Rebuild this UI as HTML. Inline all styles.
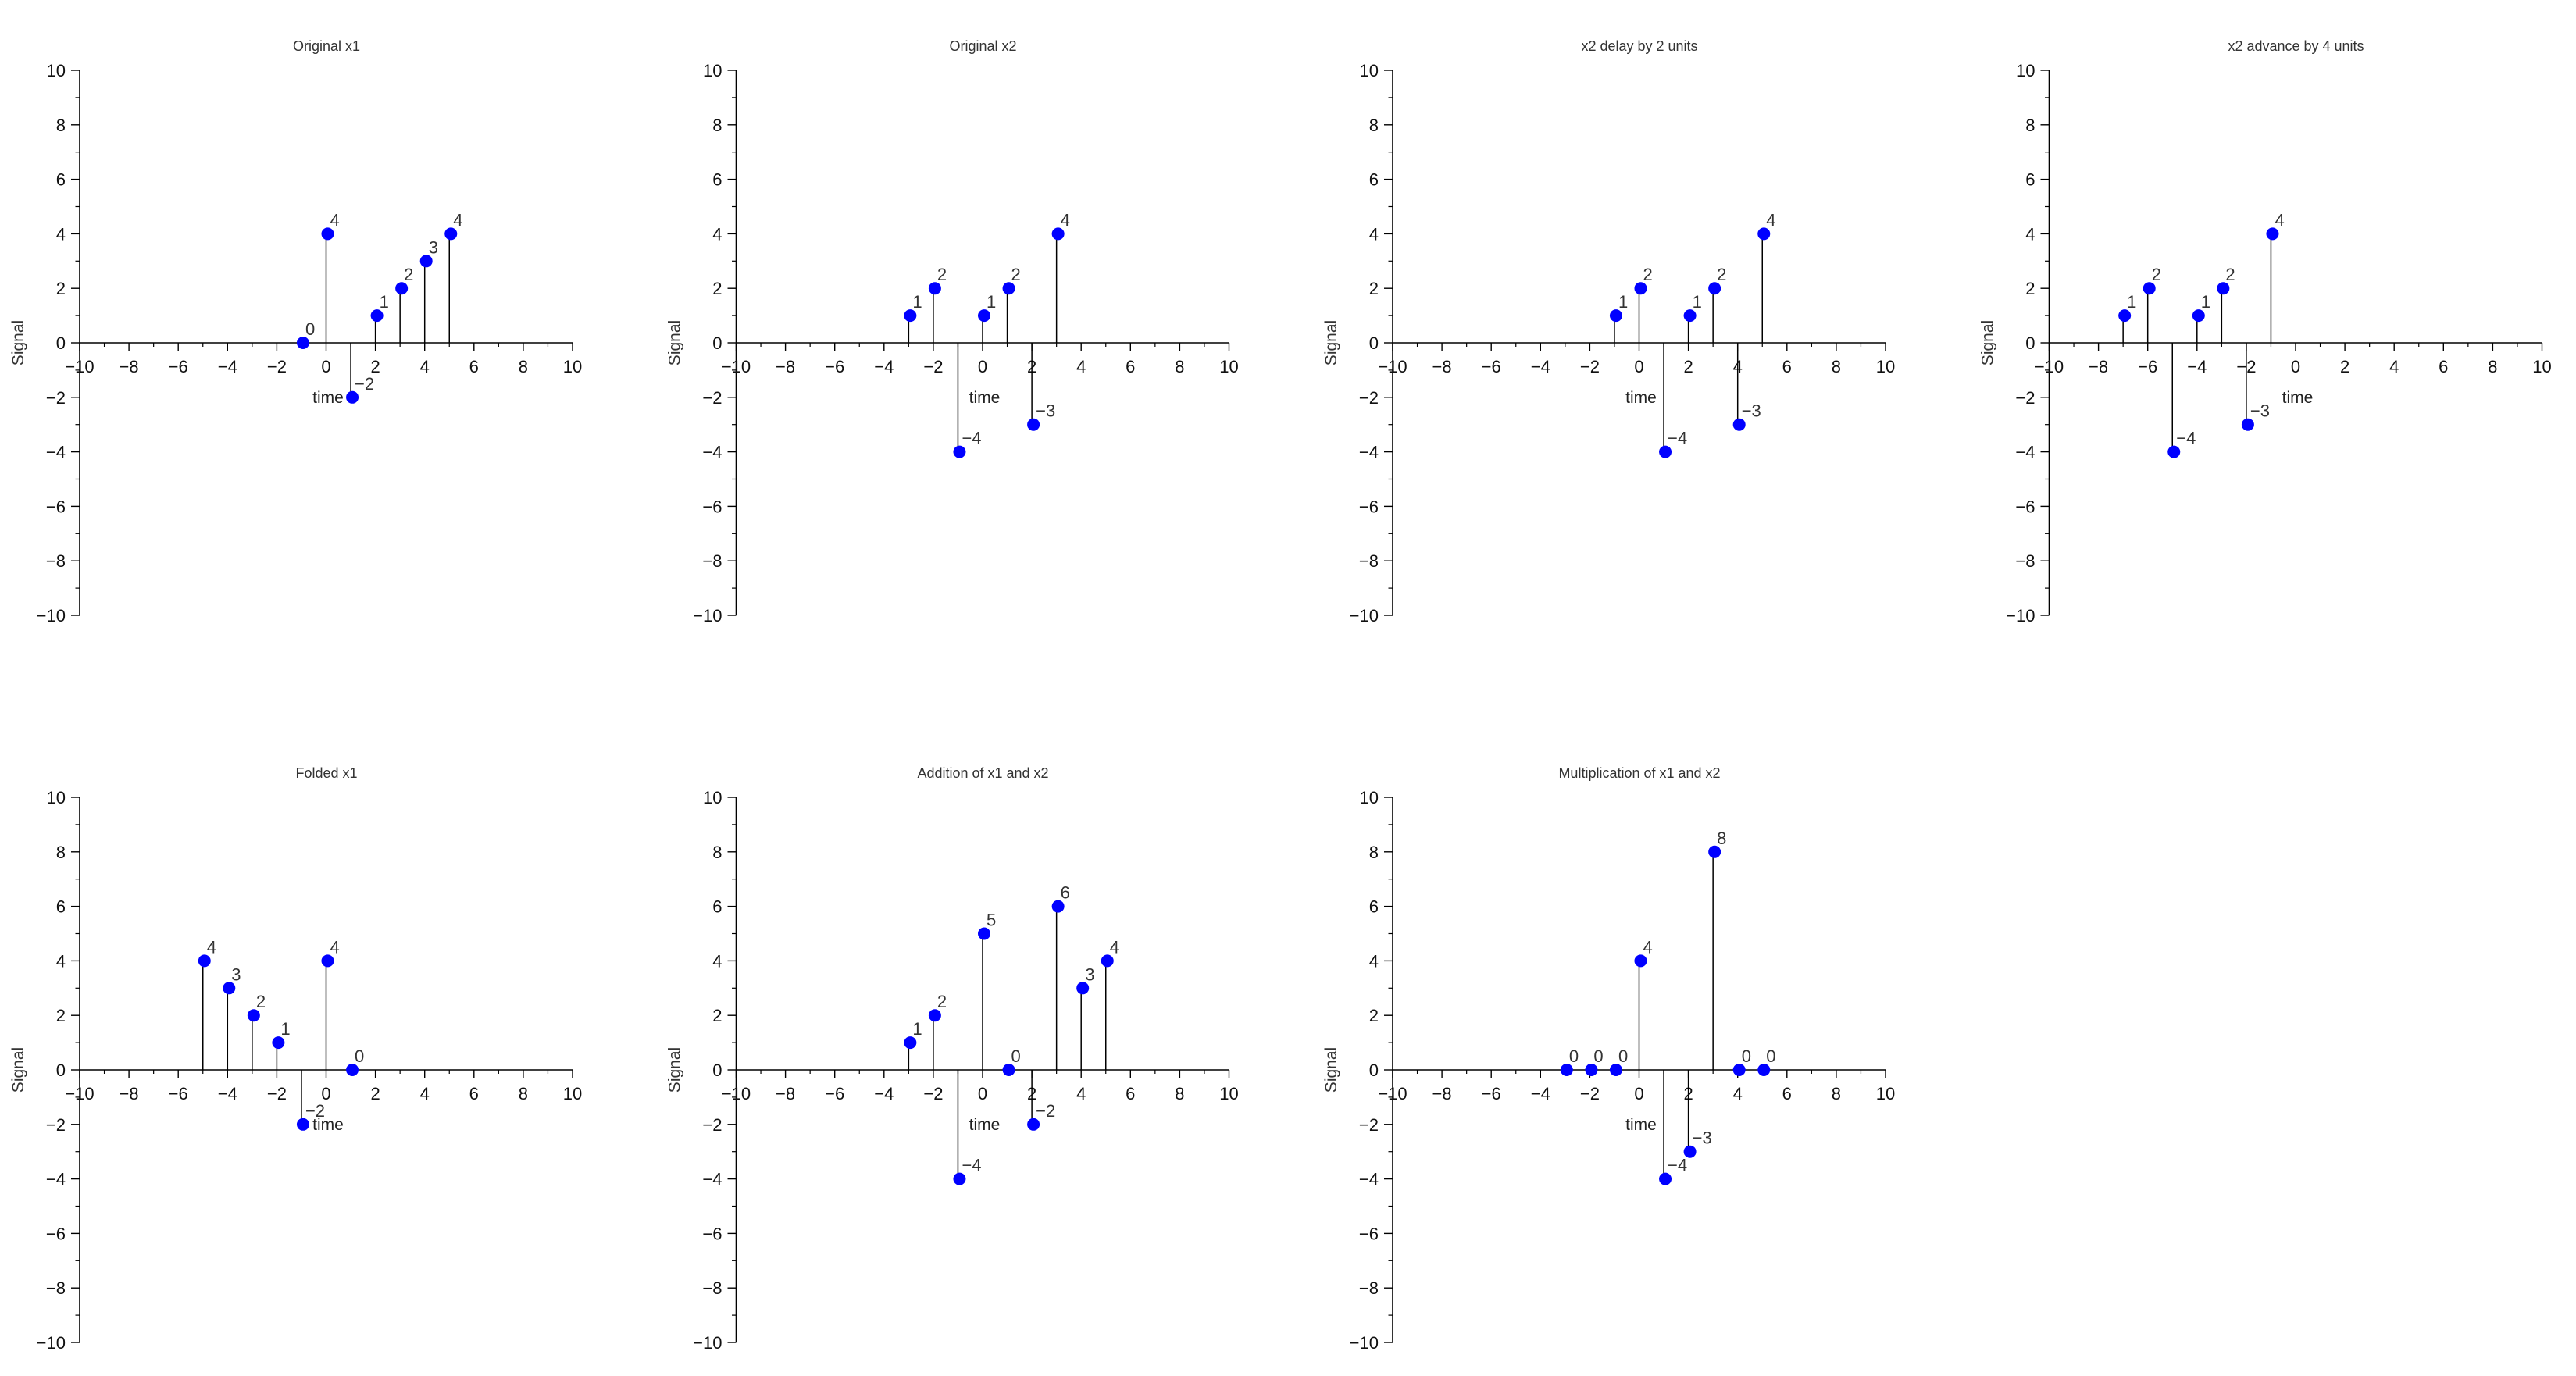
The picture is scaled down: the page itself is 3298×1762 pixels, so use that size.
<!DOCTYPE html>
<html><head><meta charset="utf-8"><style>
html,body{margin:0;padding:0;background:#fff;}
svg{display:block;font-family:"Liberation Sans",sans-serif;}
</style></head><body>
<svg id="fig" width="3298" height="1762" viewBox="0 0 3298 1762" xmlns="http://www.w3.org/2000/svg"></svg>
<script>
const titles = ["Original x1","Original x2","x2 delay by 2 units","x2 advance by 4 units","Folded x1","Addition of x1 and x2","Multiplication of x1 and x2"];
const n1 = [-1,0,1,2,3,4,5];
const x1 = [0,4,-2,1,2,3,4];
const n2 = [-3,-2,-1,0,1,2,3];
const x2 = [1,2,-4,1,2,-3,4];
const nDelay = [-1,0,1,2,3,4,5];
const xDelay = [1,2,-4,1,2,-3,4];
const nAdv = [-7,-6,-5,-4,-3,-2,-1];
const xAdv = [1,2,-4,1,2,-3,4];
const nFold = [-5,-4,-3,-2,-1,0,1];
const xFold = [4,3,2,1,-2,4,0];
const nSum = [-3,-2,-1,0,1,2,3,4,5];
const xSum = [1,2,-4,5,0,-2,6,3,4];
const nProd = [-3,-2,-1,0,1,2,3,4,5];
const xProd = [0,0,0,4,-4,-3,8,0,0];
const tickVals = [-10,-8,-6,-4,-2,0,2,4,6,8,10];
const minorVals = [-9,-7,-5,-3,-1,1,3,5,7,9];
const seriesN = [n1,n2,nDelay,nAdv,nFold,nSum,nProd];
const seriesX = [x1,x2,xDelay,xAdv,xFold,xSum,xProd];

const NS="http://www.w3.org/2000/svg";
const svg=document.getElementById('fig');
function mk(tag,attrs,parent){const e=document.createElementNS(NS,tag);for(const k in attrs)e.setAttribute(k,attrs[k]);(parent||svg).appendChild(e);return e;}
function lab(v){return v<0?"\u2212"+Math.abs(v):String(v);}

for(let p=0;p<7;p++){
  const col=p%4,row=Math.floor(p/4);
  const left=102+840.5*col, top=90+931*row, W=631, H=698;
  const sx=v=>left+(v+10)/20*W;
  const sy=v=>top+(10-v)/20*H;
  const g=mk('g',{});
  
  
  const t=mk('text',{x:left+316,y:top-25,'text-anchor':'middle','font-size':18,fill:'#333'},g);
  
  
  t.textContent=titles[p];
  const yax=mk('line',{x1:sx(0)-sx(0)+left,y1:top,x2:left,y2:top+H,stroke:'#000','stroke-width':1.6},g);
  
  
  const xax=mk('line',{x1:left,y1:sy(0),x2:left+W,y2:sy(0),stroke:'#000','stroke-width':1.6},g);
  
  
  tickVals.forEach(v=>{
    mk('line',{x1:left-11,y1:sy(v),x2:left,y2:sy(v),stroke:'#000','stroke-width':1.4},g);
    const yl=mk('text',{x:left-18,y:sy(v)+8,'text-anchor':'end','font-size':22,fill:'#111'},g);
    
    
    yl.textContent=lab(v);
    mk('line',{x1:sx(v),y1:sy(0),x2:sx(v),y2:sy(0)+10,stroke:'#000','stroke-width':1.4},g);
    const xl=mk('text',{x:sx(v),y:sy(0)+38,'text-anchor':'middle','font-size':22,fill:'#111'},g);
    
    
    xl.textContent=lab(v);
  });
  minorVals.forEach(v=>{
    mk('line',{x1:left-5.5,y1:sy(v),x2:left,y2:sy(v),stroke:'#000','stroke-width':1.2},g);
    mk('line',{x1:sx(v),y1:sy(0),x2:sx(v),y2:sy(0)+5,stroke:'#000','stroke-width':1.2},g);
  });
  const xt=mk('text',{x:left+318,y:sy(0)+77,'text-anchor':'middle','font-size':21,fill:'#222'},g);
  
  
  xt.textContent='time';
  const yt=mk('text',{x:0,y:0,'text-anchor':'middle','font-size':21,fill:'#333',transform:`translate(${left-72},${sy(0)}) rotate(-90)`},g);
  
  
  yt.textContent='Signal';
  const N=seriesN[p],X=seriesX[p];
  for(let i=0;i<N.length;i++){
    const cx=sx(N[i]),cy=sy(X[i]);
    const st=mk('line',{x1:cx,y1:sy(0),x2:cx,y2:cy,stroke:'#000','stroke-width':1.5},g);
    
    
    const c=mk('circle',{cx:cx+2,cy:cy,r:8,fill:'#0000ff'},g);
    
    
    const vl=mk('text',{x:cx+5,y:cy-10,'font-size':22,fill:'#333'},g);
    
    
    vl.textContent=lab(X[i]);
  }
}
</script>
</body></html>
